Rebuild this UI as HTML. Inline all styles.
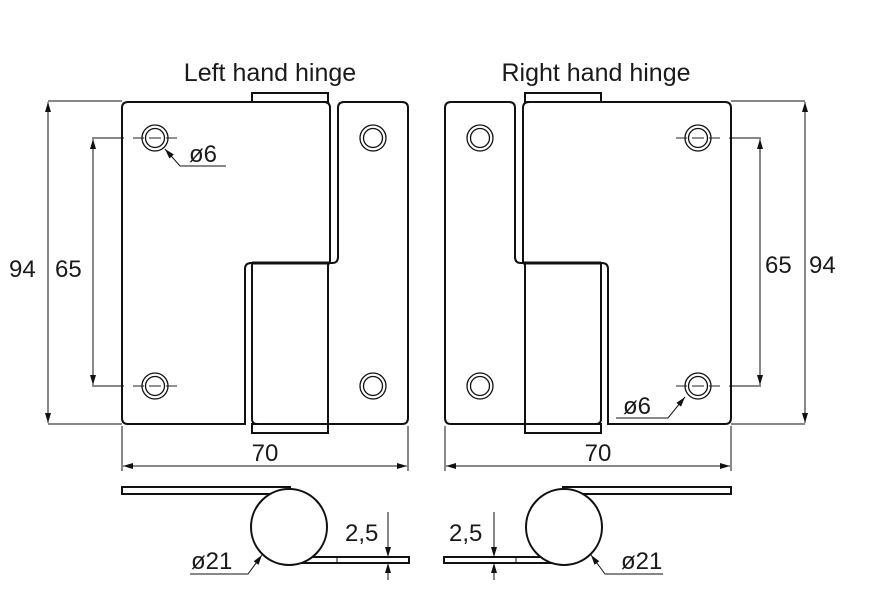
<!DOCTYPE html>
<html><head><meta charset="utf-8"><style>
html,body{margin:0;padding:0;background:#fff;}
svg{display:block;}
text{font-family:"Liberation Sans",Arial,sans-serif;fill:#1a1a1a;}
</style></head><body>
<svg width="872" height="615" viewBox="0 0 872 615" xmlns="http://www.w3.org/2000/svg">
<defs>
<marker id="a" viewBox="0 0 10 6" refX="10" refY="3" markerWidth="11" markerHeight="6" orient="auto-start-reverse" markerUnits="userSpaceOnUse"><path d="M0,0 L10,3 L0,6 Z" fill="#111"/></marker>
<g id="hinge">
 <path d="M128,102 H324 Q330,102 330,108 V263 H251 Q245,263 245,269 V424 H128 Q122,424 122,418 V108 Q122,102 128,102 Z" fill="none" stroke="#111" stroke-width="2"/>
 <path d="M330,263 H332 Q338,263 338,257 V108 Q338,102 344,102 H402 Q408,102 408,108 V418 Q408,424 402,424 H257 Q252,424 252,419 V263" fill="none" stroke="#111" stroke-width="2"/>
 <line x1="252" y1="263" x2="330" y2="263" stroke="#111" stroke-width="3"/>
 <rect x="252" y="93" width="76" height="9" fill="none" stroke="#111" stroke-width="2"/>
 <line x1="328" y1="263" x2="328" y2="433" stroke="#111" stroke-width="2"/>
 <rect x="252" y="424" width="76" height="9" fill="none" stroke="#111" stroke-width="2"/>
 <g fill="none" stroke="#111" stroke-width="1.3">
  <circle cx="155" cy="138" r="13"/><circle cx="155" cy="138" r="9.5"/>
  <circle cx="155" cy="386" r="13"/><circle cx="155" cy="386" r="9.5"/>
  <circle cx="373" cy="138" r="13"/><circle cx="373" cy="138" r="9.5"/>
  <circle cx="373" cy="386" r="13"/><circle cx="373" cy="386" r="9.5"/>
 </g>
 <g stroke="#222" stroke-width="1">
  <line x1="133" y1="138" x2="144" y2="138"/><line x1="149" y1="138" x2="161" y2="138"/><line x1="166" y1="138" x2="177" y2="138"/>
  <line x1="133" y1="386" x2="144" y2="386"/><line x1="149" y1="386" x2="161" y2="386"/><line x1="166" y1="386" x2="177" y2="386"/>
 </g>
 <g stroke="#111" stroke-width="1" fill="none">
  <line x1="48" y1="101" x2="122" y2="101"/>
  <line x1="48" y1="424" x2="122" y2="424"/>
  <line x1="48" y1="102" x2="48" y2="423" marker-start="url(#a)" marker-end="url(#a)"/>
  <line x1="92" y1="138" x2="124" y2="138"/>
  <line x1="92" y1="386" x2="124" y2="386"/>
  <line x1="93" y1="139" x2="93" y2="385" marker-start="url(#a)" marker-end="url(#a)"/>
  <line x1="122" y1="426" x2="122" y2="471"/>
  <line x1="408" y1="426" x2="408" y2="471"/>
  <line x1="123" y1="466" x2="407" y2="466" marker-start="url(#a)" marker-end="url(#a)"/>
 </g>
 <g fill="none" stroke="#111" stroke-width="2">
  <rect x="122" y="487" width="168" height="7"/>
  <rect x="290" y="557" width="119" height="6"/>
  <line x1="337" y1="557" x2="337" y2="563" stroke-width="1"/>
  <circle cx="289" cy="527" r="38" fill="#fff"/>
 </g>
 <g stroke="#111" stroke-width="1" fill="none">
  <polyline points="190,574 248,574 262,555" marker-end="url(#a)"/>
 </g>
</g>
</defs>

<text x="270" y="81" font-size="25" text-anchor="middle">Left hand hinge</text>
<text x="596" y="81" font-size="25" text-anchor="middle">Right hand hinge</text>

<use href="#hinge"/>
<use href="#hinge" transform="matrix(-1 0 0 1 853 0)"/>

<g stroke="#111" stroke-width="1" fill="none">
 <polyline points="226,166 180,166 165,149" marker-end="url(#a)"/>
 <polyline points="616,418 668,418 685,397" marker-end="url(#a)"/>
 <line x1="388" y1="512" x2="388" y2="557" marker-end="url(#a)"/>
 <line x1="388" y1="580" x2="388" y2="563" marker-end="url(#a)"/>
 <line x1="494" y1="512" x2="494" y2="557" marker-end="url(#a)"/>
 <line x1="494" y1="580" x2="494" y2="563" marker-end="url(#a)"/>
</g>

<g font-size="24">
 <text x="9" y="277">94</text>
 <text x="55" y="277">65</text>
 <text x="765" y="273">65</text>
 <text x="809" y="273">94</text>
 <text x="189" y="162">ø6</text>
 <text x="623" y="414">ø6</text>
 <text x="265" y="461" text-anchor="middle">70</text>
 <text x="598" y="461" text-anchor="middle">70</text>
 <text x="345" y="541">2,5</text>
 <text x="449" y="541">2,5</text>
 <text x="191" y="569">ø21</text>
 <text x="621" y="569">ø21</text>
</g>
</svg>
</body></html>
